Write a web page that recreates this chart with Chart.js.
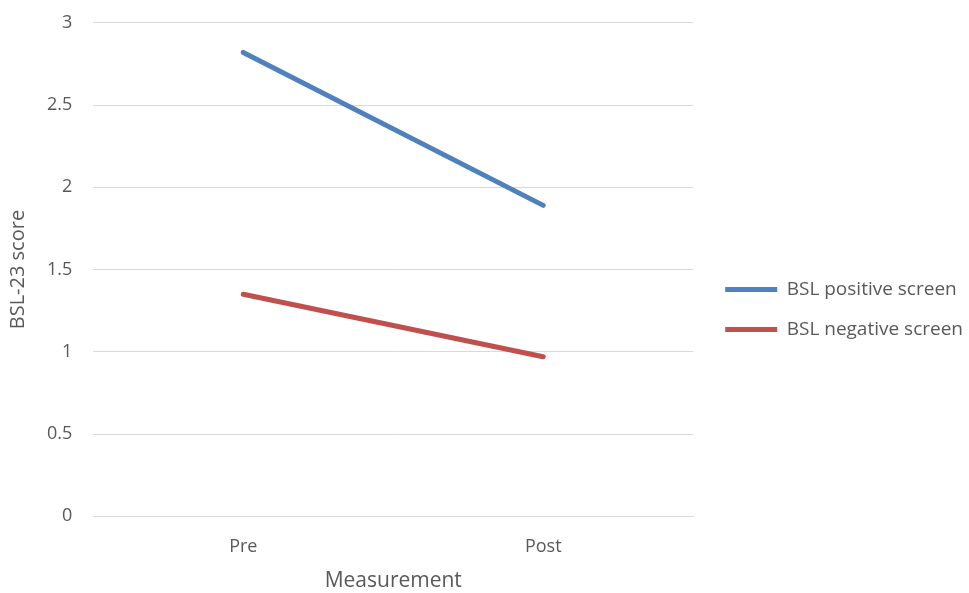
<!DOCTYPE html>
<html>
<head>
<meta charset="utf-8">
<script src="https://cdn.jsdelivr.net/npm/chart.js@4"></script>
<style>
  html, body { margin: 0; padding: 0; background: #fff; }
  #wrap { width: 969px; height: 593px; }
</style>
</head>
<body>
<div id="wrap"><canvas id="myChart"></canvas></div>
<script>
const categories = ["Pre", "Post"];
const positiveScreen = [2.82, 1.89];
const negativeScreen = [1.35, 0.97];
const yTicks = [0, 0.5, 1, 1.5, 2, 2.5, 3];

Chart.defaults.font.family = "'Open Sans', 'Noto Sans', sans-serif";
Chart.defaults.color = '#595959';

// nudge legend to where it sits in the original
const legendShift = {
    id: 'legendShift',
    afterLayout(chart) {
        chart.legend.top += 13;
        chart.legend.bottom += 13;
        chart.legend.left += 11;
        chart.legend.right += 11;
    }
};

new Chart(document.getElementById("myChart"), {
    type: 'line',
    data: {
        labels: categories,
        datasets: [{
            label: "BSL positive screen",
            data: positiveScreen,
            borderColor: '#4F81BD',
            backgroundColor: '#4F81BD',
            borderWidth: 5,
            pointRadius: 0,
            borderCapStyle: 'round'
        }, {
            label: "BSL negative screen",
            data: negativeScreen,
            borderColor: '#C0504D',
            backgroundColor: '#C0504D',
            borderWidth: 5,
            pointRadius: 0,
            borderCapStyle: 'round'
        }]
    },
    plugins: [legendShift],
    options: {
        responsive: true,
        maintainAspectRatio: false,
        animation: false,
        layout: { autoPadding: false, padding: { top: 0, right: 7, left: 2, bottom: 0 } },
        plugins: {
            legend: {
                position: 'right',
                maxWidth: 320,
                labels: {
                    usePointStyle: true,
                    pointStyle: 'line',
                    pointStyleWidth: 52,
                    padding: 21,
                    font: { size: 19 }
                }
            },
            tooltip: { enabled: false }
        },
        scales: {
            x: {
                offset: true,
                grid: { display: false },
                border: { color: '#D9D9D9' },
                ticks: { font: { size: 18 }, padding: 12 },
                title: { display: true, text: "Measurement", font: { size: 21, lineHeight: 1.1 }, padding: { top: 0, bottom: 0 } }
            },
            y: {
                min: 0,
                max: 3,
                afterBuildTicks: axis => { axis.ticks = yTicks.map(v => ({ value: v })); },
                grid: { color: '#D9D9D9', drawTicks: false },
                border: { display: false },
                ticks: { font: { size: 18, lineHeight: 0.2 }, padding: 21, callback: v => String(v) },
                title: { display: true, text: "BSL-23 score", font: { size: 20, lineHeight: 0.8 }, padding: { top: 8, bottom: 0 } }
            }
        }
    }
});
</script>
</body>
</html>
